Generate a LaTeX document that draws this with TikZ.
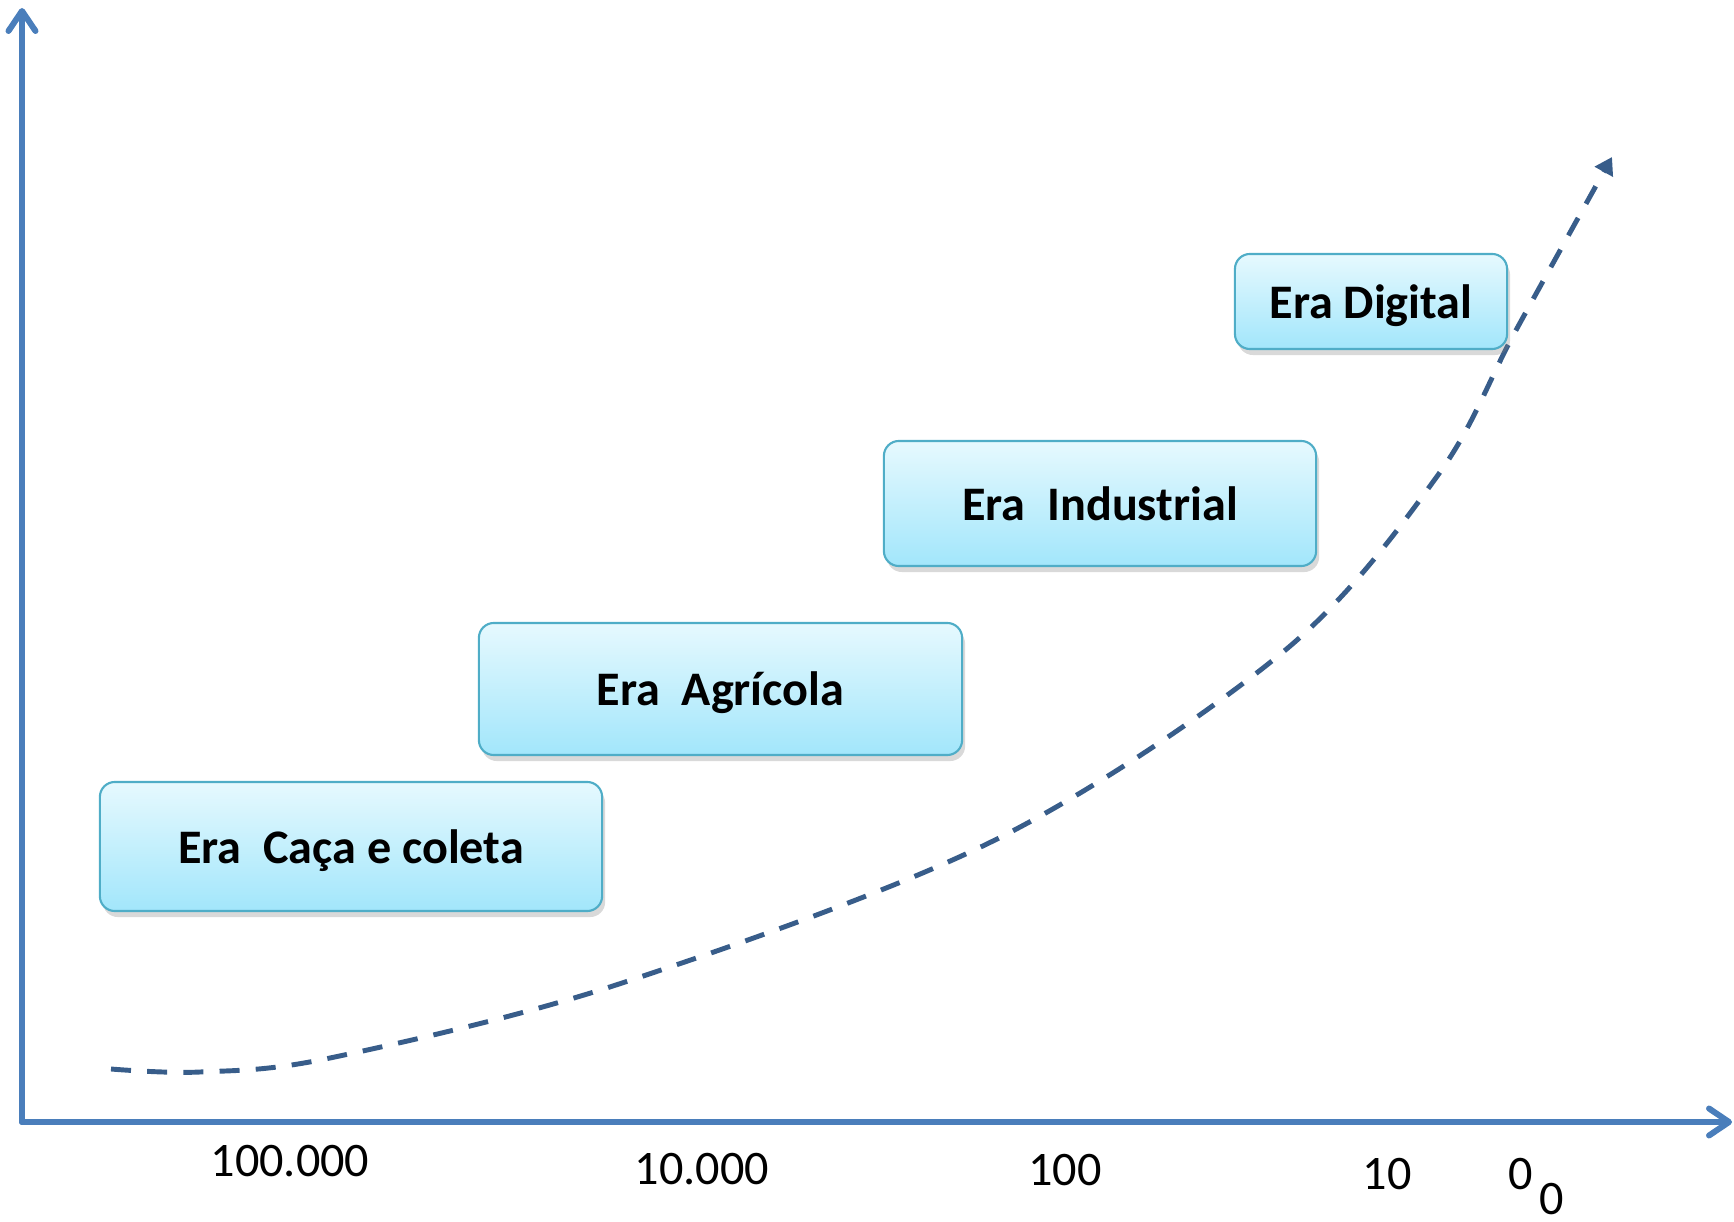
\documentclass[tikz,border=0pt]{standalone}
\usepackage{fontspec}
\setmainfont{Carlito}
\usetikzlibrary{arrows.meta,shadows}
\definecolor{axisblue}{HTML}{4A7EBB}
\definecolor{curveblue}{HTML}{385D8A}
\definecolor{boxedge}{HTML}{4FADC7}
\definecolor{boxtop}{HTML}{E6F9FE}
\definecolor{boxbot}{HTML}{A2E6FB}
\tikzset{
  axisline/.style={draw=axisblue,line width=1.7pt,line cap=round,
    -{Straight Barb[length=0.2cm,width=0.27cm,line cap=round,line join=round]}},
  growth/.style={draw=curveblue,line width=1.4pt,dash pattern=on 5.7pt off 4.6pt,
    -{Triangle[length=0.17cm,width=0.2cm]}},
  erabox/.style={draw=boxedge,line width=0.6pt,rounded corners=0.15cm,
    top color=boxtop,bottom color=boxbot,
    drop shadow={shadow xshift=0.03cm,shadow yshift=-0.06cm,opacity=0.3},
    font=\fontsize{13.7}{16}\selectfont\bfseries,inner sep=0pt,text depth=0pt},
  ticklabel/.style={font=\fontsize{13.7}{16}\selectfont,inner sep=0pt}
}
\begin{document}
\begin{tikzpicture}[x=0.01cm,y=-0.01cm]
\useasboundingbox (0,0) rectangle (1734,1222);
% eixos
\coordinate (origin) at (22,1122);
\coordinate (ytop) at (22,8);
\coordinate (xend) at (1732,1122);
\draw[axisline] (origin) -- (ytop);
\draw[axisline] (origin) -- (xend);
\draw[growth] plot[smooth,tension=0.55] coordinates {(111,1069) (200,1072) (330,1058)
  (619,984) (995,840) (1283,652) (1438,475) (1515,332) (1612,157)};
\node[erabox,minimum width=5.02cm,minimum height=1.29cm] (caca) at (351,846.5) {Era\ \ Caça e coleta};
\node[erabox,minimum width=4.83cm,minimum height=1.32cm] (agricola) at (720.5,689) {Era\ \ Agrícola};
\node[erabox,minimum width=4.32cm,minimum height=1.25cm] (industrial) at (1100,503.5) {Era\ \ Industrial};
\node[erabox,minimum width=2.72cm,minimum height=0.95cm] (digital) at (1371,301.5) {Era Digital};
\node[ticklabel] (t100k) at (290,1161) {100.000};
\node[ticklabel] (t10k) at (702,1169) {10.000};
\node[ticklabel] (t100) at (1065,1170) {100};
\node[ticklabel] (t10) at (1387,1174) {10};
\node[ticklabel] (tzero) at (1521,1174) {0};
\node[ticklabel] (tzerob) at (1552,1199) {0};
\end{tikzpicture}
\end{document}
